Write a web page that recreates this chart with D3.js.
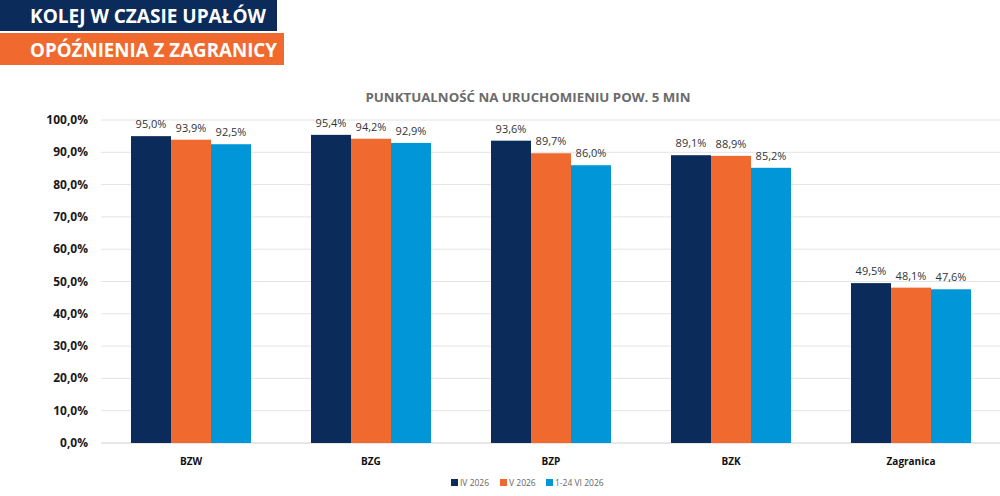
<!DOCTYPE html>
<html>
<head>
<meta charset="utf-8">
<script src="https://cdn.jsdelivr.net/npm/d3@7"></script>
<style>
  body { margin: 0; background: #fff; }
  svg { display: block; font-family: "Open Sans", "Noto Sans", sans-serif; }
</style>
</head>
<body>
<svg id="chart" width="1000" height="496"></svg>
<script>
(function() {
    var width = 1000, height = 496

    // data
    const categories = ["BZW", "BZG", "BZP", "BZK", "Zagranica"]
    const seriesNames = ["IV 2026", "V 2026", "1-24 VI 2026"]
    const apr = [95.0, 95.4, 93.6, 89.1, 49.5]
    const may = [93.9, 94.2, 89.7, 88.9, 48.1]
    const jun = [92.5, 92.9, 86.0, 85.2, 47.6]
    const yTicks = [0, 10, 20, 30, 40, 50, 60, 70, 80, 90, 100]
    const colors = ["#0b2b5b", "#f0692e", "#0096d8"]

    const seriesValues = [apr, may, jun]
    const fmt = (v) => v.toFixed(1).replace(".", ",") + "%"

    const svg = d3.select("#chart")

    // header boxes
    svg.append("rect").attr("x", 0).attr("y", 0).attr("width", 277).attr("height", 31).attr("fill", "#0b2b5b")
    svg.append("rect").attr("x", 0).attr("y", 33).attr("width", 284).attr("height", 32).attr("fill", "#f0692e")
    svg.append("text").attr("x", 30).attr("y", 23)
        .attr("fill", "#fff").attr("font-size", 20).attr("font-weight", "bold")
        .attr("textLength", 236).attr("lengthAdjust", "spacingAndGlyphs")
        .text("KOLEJ W CZASIE UPAŁÓW")
    svg.append("text").attr("x", 30).attr("y", 57)
        .attr("fill", "#fff").attr("font-size", 20).attr("font-weight", "bold")
        .attr("textLength", 247).attr("lengthAdjust", "spacingAndGlyphs")
        .text("OPÓŹNIENIA Z ZAGRANICY")

    // chart title
    svg.append("text").attr("x", 528).attr("y", 102)
        .attr("text-anchor", "middle").attr("fill", "#6b6b6b")
        .attr("font-size", 13).attr("font-weight", "bold")
        .attr("textLength", 325).attr("lengthAdjust", "spacingAndGlyphs")
        .text("PUNKTUALNOŚĆ NA URUCHOMIENIU POW. 5 MIN")

    const left = 101, right = 1001, top = 120, bottom = 443

    var x = d3.scaleBand().domain(categories).range([left, right]).paddingInner(0).paddingOuter(0)
    var x1 = d3.scaleBand().domain(seriesNames).range([30, 150])
    var y = d3.scaleLinear().domain([0, 100]).range([bottom, top])

    // gridlines
    svg.append("g").selectAll("line").data(yTicks).enter().append("line")
        .attr("x1", left).attr("x2", 1000)
        .attr("y1", (d) => y(d)).attr("y2", (d) => y(d))
        .attr("stroke", (d) => d === 0 ? "#d0d0d0" : "#e4e4e4").attr("stroke-width", 1)

    // y axis labels
    svg.append("g").selectAll("text").data(yTicks).enter().append("text")
        .attr("x", 88).attr("y", (d) => y(d) + 4)
        .attr("text-anchor", "end").attr("font-size", 12).attr("font-weight", "bold").attr("fill", "#1a1a1a")
        .text((d) => d.toFixed(1).replace(".", ",") + "%")

    // bars
    const groups = svg.append("g").selectAll("g").data(categories).enter().append("g")
        .attr("transform", (d) => `translate(${x(d)},0)`)

    groups.selectAll("rect")
        .data((d, i) => seriesNames.map((s, j) => ({ s: s, j: j, v: seriesValues[j][i] })))
        .enter().append("rect")
        .attr("x", (d) => x1(d.s))
        .attr("width", x1.bandwidth())
        .attr("y", (d) => y(d.v))
        .attr("height", (d) => bottom - y(d.v))
        .attr("fill", (d) => colors[d.j])

    groups.selectAll("text.val")
        .data((d, i) => seriesNames.map((s, j) => ({ s: s, j: j, v: seriesValues[j][i] })))
        .enter().append("text")
        .attr("class", "val")
        .attr("x", (d) => x1(d.s) + x1.bandwidth() / 2)
        .attr("y", (d) => y(d.v) - 8)
        .attr("text-anchor", "middle").attr("font-size", 11).attr("fill", "#333")
        .text((d) => fmt(d.v))

    // category labels
    svg.append("g").selectAll("text").data(categories).enter().append("text")
        .attr("x", (d) => x(d) + x.bandwidth() / 2).attr("y", 465)
        .attr("text-anchor", "middle").attr("font-size", 10).attr("font-weight", "bold").attr("fill", "#111")
        .text((d) => d)

    // legend
    const legendX = [451, 500, 546]
    const legend = svg.append("g").selectAll("g").data(seriesNames).enter().append("g")
        .attr("transform", (d, i) => `translate(${legendX[i]},479)`)
    legend.append("rect").attr("width", 7).attr("height", 7).attr("fill", (d, i) => colors[i])
    legend.append("text").attr("x", 9).attr("y", 7)
        .attr("font-size", 8.5).attr("fill", "#666").text((d) => d)
})();
</script>
</body>
</html>
